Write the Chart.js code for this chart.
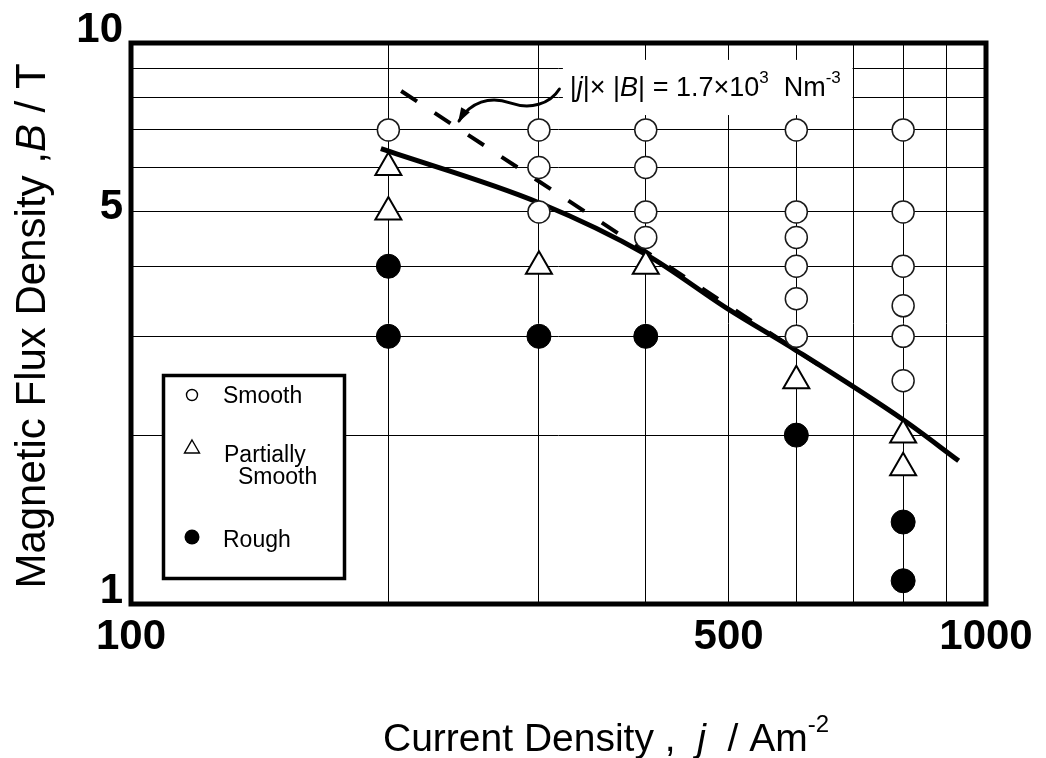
<!DOCTYPE html>
<html><head><meta charset="utf-8">
<script src="https://cdn.jsdelivr.net/npm/chart.js@4.4.1/dist/chart.umd.min.js"></script>
<style>html,body{margin:0;padding:0;background:#fff}#wrap{width:1046px;height:758px;position:relative}</style>
</head><body><div id="wrap"><canvas id="c" width="1046" height="758"></canvas></div>
<script>
// ---- data ----
const xTickValues = [100,200,300,400,500,600,700,800,900,1000];
const yTickValues = [1,2,3,4,5,6,7,8,9,10];
const xTickLabels = {100:'100',500:'500',1000:'1000'};
const yTickLabels = {1:'1',5:'5',10:'10'};

const smoothJ = [200,300,300,300,400,400,400,400,600,600,600,600,600,600,800,800,800,800,800,800];
const smoothB = [7,7,6,5,7,6,5,4.5,7,5,4.5,4,3.5,3,7,5,4,3.4,3,2.5];
const partialJ = [200,200,300,400,600,800,800];
const partialB = [6,5,4,4,2.5,2,1.75];
const roughJ = [200,200,300,400,600,800,800];
const roughB = [4,3,3,3,2,1.4,1.1];
const fitJ = [196,300,400,500,600,800,929];
const fitB = [6.48,5.19,4.2,3.35,2.83,2.13,1.80];
const productJ = [207,640];          // |j| x |B| = 1.7e3
const productB = [1700/207,1700/640];

const FF = "'Liberation Sans', Arial, Helvetica, sans-serif";
const pts = (xs, ys) => xs.map((v,i)=>({x:v,y:ys[i]}));

function drawRich(ctx, segs, x, y){
  let cx = x;
  for (const [t,f,dy] of segs){ ctx.font=f; ctx.fillText(t,cx,y+(dy||0)); cx+=ctx.measureText(t).width; }
  return cx;
}
function richWidth(ctx, segs){
  let w=0; for (const [t,f] of segs){ ctx.font=f; w+=ctx.measureText(t).width; } return w;
}

const decor = {
  id:'decor',
  beforeDatasetsDraw(chart){
    const {ctx, scales:{x,y}} = chart;
    ctx.save();
    const x0 = x.getPixelForValue(320), x1 = x.getPixelForValue(700)-1;
    const y0 = y.getPixelForValue(9.33), y1 = y.getPixelForValue(7.44);
    ctx.fillStyle='#fff'; ctx.fillRect(x0,y0,x1-x0,y1-y0);
    ctx.fillStyle='#000'; ctx.textBaseline='alphabetic'; ctx.textAlign='left';
    const n='27px '+FF, it='italic 27px '+FF, sp='17px '+FF;
    drawRich(ctx,[['|',n],['j',it],['|',n],['\u00d7 ',n],['|',n],['B',it],['| = 1.7\u00d710',n],['3',sp,-13],['  Nm',n],['-3',sp,-13]],
      x.getPixelForValue(326), y.getPixelForValue(8)-1);
    ctx.restore();
  },
  afterDatasetsDraw(chart){
    const {ctx, chartArea:a, scales:{x,y}} = chart;
    ctx.save();
    const P = (j,b)=>[x.getPixelForValue(j), y.getPixelForValue(b)];
    const A0=P(317,8.28), C1=P(309,7.78), C2=P(293,7.60), A1=P(277.5,7.82), C3=P(263,8.05), C4=P(249.2,7.85), A2=P(241.9,7.26);
    ctx.strokeStyle='#000'; ctx.lineWidth=3; ctx.lineCap='round';
    ctx.beginPath(); ctx.moveTo(...A0); ctx.bezierCurveTo(...C1,...C2,...A1); ctx.bezierCurveTo(...C3,...C4,...A2); ctx.stroke();
    const ang = Math.atan2(A2[1]-C4[1], A2[0]-C4[0]);
    ctx.fillStyle='#000'; ctx.beginPath();
    ctx.moveTo(A2[0]+2*Math.cos(ang),A2[1]+2*Math.sin(ang));
    ctx.lineTo(A2[0]-13*Math.cos(ang)+5*Math.sin(ang), A2[1]-13*Math.sin(ang)-5*Math.cos(ang));
    ctx.lineTo(A2[0]-13*Math.cos(ang)-5*Math.sin(ang), A2[1]-13*Math.sin(ang)+5*Math.cos(ang));
    ctx.closePath(); ctx.fill();

    // legend box
    const lx=163.5, ly=375.5, lw=181, lh=203;
    ctx.fillStyle='#fff'; ctx.fillRect(lx,ly,lw,lh);
    ctx.strokeStyle='#000'; ctx.lineWidth=3.5; ctx.lineCap='butt'; ctx.strokeRect(lx,ly,lw,lh);
    const mx = 192;
    ctx.lineWidth=1.4; ctx.strokeStyle='#000';
    ctx.beginPath(); ctx.arc(mx,395,5.5,0,Math.PI*2); ctx.stroke();
    ctx.beginPath(); ctx.moveTo(mx,440); ctx.lineTo(mx+7.5,453); ctx.lineTo(mx-7.5,453); ctx.closePath(); ctx.stroke();
    ctx.fillStyle='#000'; ctx.beginPath(); ctx.arc(mx,537,7.5,0,Math.PI*2); ctx.fill();
    ctx.font='23px '+FF; ctx.textAlign='left'; ctx.textBaseline='alphabetic';
    ctx.fillText('Smooth',223,403);
    ctx.fillText('Partially',224,462);
    ctx.fillText('Smooth',238,484);
    ctx.fillText('Rough',223,547);

    // frame
    ctx.lineWidth=5; ctx.strokeStyle='#000'; ctx.lineJoin='miter';
    ctx.strokeRect(a.left, a.top, a.right-a.left, a.bottom-a.top);
    ctx.restore();
  },
  afterDraw(chart){
    const {ctx} = chart;
    ctx.save(); ctx.fillStyle='#000'; ctx.textAlign='left'; ctx.textBaseline='alphabetic';
    const n='39px '+FF, it='italic 39px '+FF, sp='24px '+FF;
    drawRich(ctx,[['Current Density ,  ',n],['j',it],['  / Am',n],['-2',sp,-19]],383,751);
    const yn='42px '+FF, yi='italic 42px '+FF;
    const ys=[['Magnetic Flux Density ,',yn],['B',yi],[' / T',yn]];
    const w=richWidth(ctx,ys);
    ctx.translate(45,326); ctx.rotate(-Math.PI/2);
    drawRich(ctx,ys,-w/2,0);
    ctx.restore();
  }
};

const yLabelLH = {10:'26px',5:'8px',1:'26px'};

new Chart(document.getElementById('c'), {
  type:'scatter',
  data:{datasets:[
    {label:'Smooth', data:pts(smoothJ,smoothB), pointStyle:'circle', pointRadius:11, pointHoverRadius:11,
     backgroundColor:'#fff', borderColor:'#1a1a1a', borderWidth:1.5, showLine:false, order:0},
    {label:'Partially Smooth', data:pts(partialJ,partialB), pointStyle:'triangle', pointRadius:15, pointHoverRadius:15,
     backgroundColor:'#fff', borderColor:'#000', borderWidth:2, showLine:false, order:0},
    {label:'Rough', data:pts(roughJ,roughB), pointStyle:'circle', pointRadius:12, pointHoverRadius:12,
     backgroundColor:'#000', borderColor:'#000', borderWidth:1, showLine:false, order:0},
    {label:'fit', data:pts(fitJ,fitB), showLine:true, borderColor:'#000', borderWidth:5, pointRadius:0,
     cubicInterpolationMode:'monotone', fill:false, order:1},
    {label:'jB', data:pts(productJ,productB), showLine:true, borderColor:'#000', borderWidth:4, pointRadius:0,
     borderDash:[19,21], fill:false, order:2}
  ]},
  options:{
    responsive:false, animation:false, devicePixelRatio:1,
    layout:{padding:{top:43,right:60,left:0,bottom:0}},
    plugins:{legend:{display:false}, tooltip:{enabled:false}},
    scales:{
      x:{type:'logarithmic', min:100, max:1000,
        afterBuildTicks:s=>{s.ticks=xTickValues.map(v=>({value:v}));},
        afterFit:s=>{s.height=758-604;},
        ticks:{autoSkip:false, maxRotation:0, minRotation:0, padding:8, color:'#000',
          font:{family:FF,size:42,weight:'bold'}, callback:v=>xTickLabels[v]||''},
        grid:{color:'#000', lineWidth:1, drawTicks:false}, border:{display:false}},
      y:{type:'logarithmic', min:1, max:10,
        afterBuildTicks:s=>{s.ticks=yTickValues.map(v=>({value:v}));},
        afterFit:s=>{s.width=131;},
        ticks:{autoSkip:false, padding:8, color:'#000',
          font:c=>({family:FF,size:42,weight:'bold',lineHeight:(c.tick && yLabelLH[c.tick.value])||1.2}),
          callback:v=>yTickLabels[v]?[yTickLabels[v],'']:''},
        grid:{color:'#000', lineWidth:1, drawTicks:false}, border:{display:false}}
    }
  },
  plugins:[decor]
});
</script></body></html>
